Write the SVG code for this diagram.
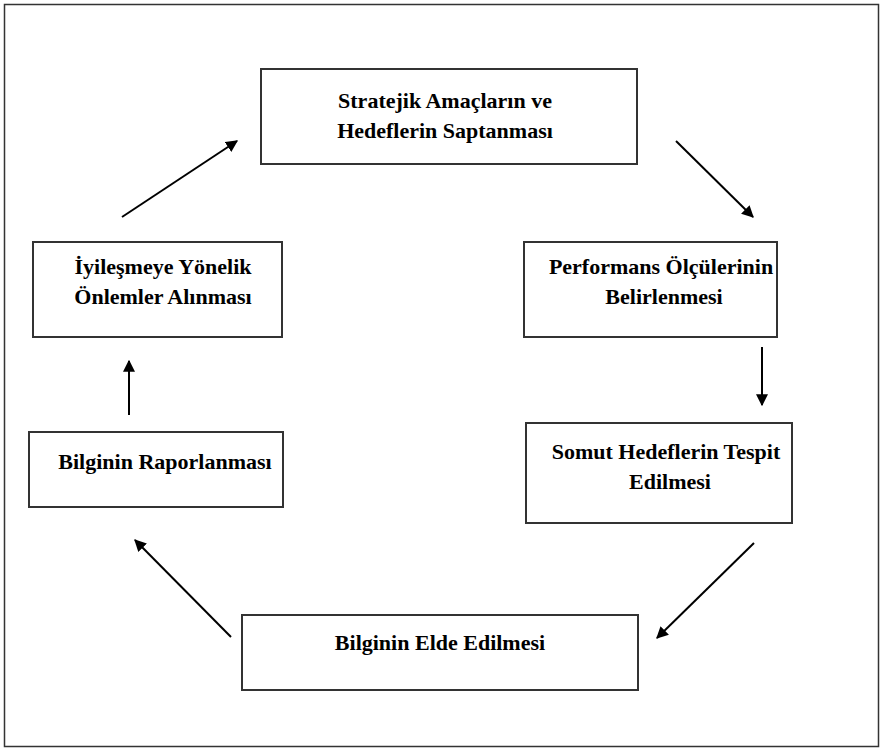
<svg xmlns="http://www.w3.org/2000/svg" width="885" height="752" viewBox="0 0 885 752">
<defs>
<style>
.frame{fill:#fff;stroke:#333;stroke-width:1.5}
.box{fill:#fff;stroke:#333;stroke-width:2}
.t{font-family:"Liberation Serif","Times New Roman",serif;font-weight:bold;font-size:22px;fill:#000;text-anchor:middle}
.c{stroke:#000;stroke-width:2;fill:none;marker-end:url(#ah)}
</style>
<marker id="ah" viewBox="0 0 10 10" refX="9" refY="5" markerWidth="6" markerHeight="6" markerUnits="strokeWidth" orient="auto">
<path d="M0,0 L10,5 L0,10 z" fill="#000"/>
</marker>
</defs>
<rect class="frame" x="4.5" y="4.5" width="874" height="742"/>
<g id="n1"><rect class="box" x="261" y="69" width="376" height="95"/><text class="t" x="445" y="108">Stratejik Amaçların ve</text><text class="t" x="445" y="138">Hedeflerin Saptanması</text></g>
<g id="n2"><rect class="box" x="524" y="242" width="253" height="95"/><text class="t" x="661" y="274">Performans Ölçülerinin</text><text class="t" x="664" y="304">Belirlenmesi</text></g>
<g id="n3"><rect class="box" x="526" y="423" width="266" height="100"/><text class="t" x="666" y="459">Somut Hedeflerin Tespit</text><text class="t" x="670" y="489">Edilmesi</text></g>
<g id="n4"><rect class="box" x="242" y="615" width="396" height="75"/><text class="t" x="440" y="650">Bilginin Elde Edilmesi</text></g>
<g id="n5"><rect class="box" x="29" y="432" width="254" height="75"/><text class="t" x="165" y="469">Bilginin Raporlanması</text></g>
<g id="n6"><rect class="box" x="33" y="242" width="249" height="95"/><text class="t" x="163" y="274">İyileşmeye Yönelik</text><text class="t" x="163" y="304">Önlemler Alınması</text></g>
<g id="connectors">
<line class="c" x1="676" y1="141" x2="753" y2="217"/>
<line class="c" x1="762" y1="347" x2="762" y2="405"/>
<line class="c" x1="754" y1="543" x2="657" y2="638"/>
<line class="c" x1="231" y1="637" x2="135" y2="540"/>
<line class="c" x1="129" y1="415" x2="129" y2="361"/>
<line class="c" x1="122" y1="217" x2="237" y2="141"/>
</g>
</svg>
